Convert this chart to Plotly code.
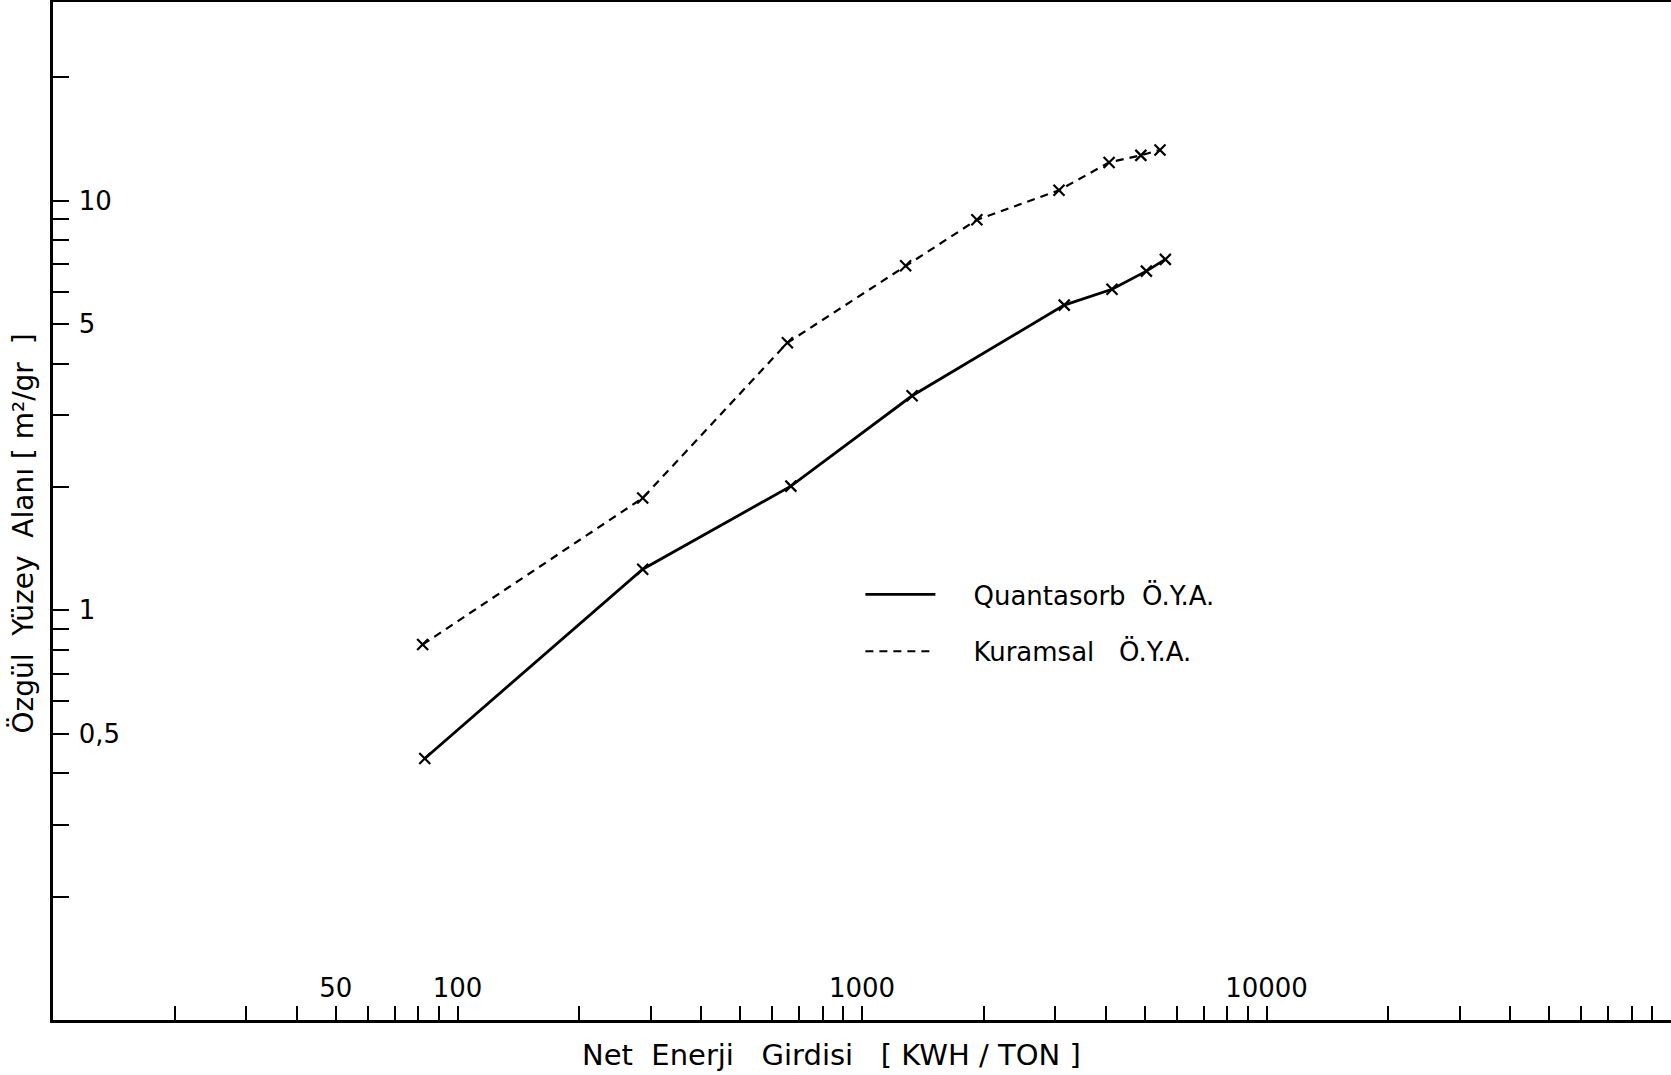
import plotly.graph_objects as go

# Net energy input [KWH/TON] vs specific surface area [m2/gr]
kuramsal_x = [82, 287, 654, 1282, 1923, 3069, 4082, 4891, 5454]
kuramsal_y = [0.825, 1.88, 4.50, 6.94, 8.98, 10.6, 12.4, 12.9, 13.3]

quantasorb_x = [83, 287, 667, 1330, 3162, 4150, 5047, 5623]
quantasorb_y = [0.435, 1.26, 2.01, 3.34, 5.56, 6.08, 6.73, 7.19]

x_tickvals = [20, 30, 40, 50, 60, 70, 80, 90,
              100, 200, 300, 400, 500, 600, 700, 800, 900,
              1000, 2000, 3000, 4000, 5000, 6000, 7000, 8000, 9000,
              10000, 20000, 30000, 40000, 50000, 60000, 70000, 80000, 90000]
x_ticktext = ["", "", "", "50", "", "", "", "",
              "100", "", "", "", "", "", "", "", "",
              "1000", "", "", "", "", "", "", "", "",
              "10000", "", "", "", "", "", "", "", ""]

y_tickvals = [0.2, 0.3, 0.4, 0.5, 0.6, 0.7, 0.8, 0.9,
              1, 2, 3, 4, 5, 6, 7, 8, 9, 10, 20]
y_ticktext = ["", "", "", "0,5", "", "", "", "",
              "1", "", "", "", "5", "", "", "", "", "10", ""]

x_title = "Net  Enerji   Girdisi   [ KWH / TON ]"
y_title = "Özgül  Yüzey  Alanı [ m²/gr  ]"

FONT = "DejaVu Sans, Verdana, sans-serif"
NB = "\u00a0"

fig = go.Figure()
# lines (legend entries)
fig.add_trace(go.Scatter(
    x=quantasorb_x, y=quantasorb_y, mode="lines",
    name=NB * 4 + "Quantasorb  Ö.Y.A.", legendgroup="q",
    line=dict(color="black", width=2.8),
))
fig.add_trace(go.Scatter(
    x=kuramsal_x, y=kuramsal_y, mode="lines",
    name=NB * 4 + "Kuramsal   Ö.Y.A.", legendgroup="k",
    line=dict(color="black", width=2.2, dash="8px,6px"),
))
# point markers
fig.add_trace(go.Scatter(
    x=quantasorb_x, y=quantasorb_y, mode="markers", showlegend=False,
    marker=dict(symbol="x-thin", size=11, line=dict(color="black", width=2.2)),
))
fig.add_trace(go.Scatter(
    x=kuramsal_x, y=kuramsal_y, mode="markers", showlegend=False,
    marker=dict(symbol="x-thin", size=11, line=dict(color="black", width=2.2)),
))

fig.update_layout(
    width=1671, height=1075,
    margin=dict(l=53, r=0, t=2, b=55),
    paper_bgcolor="white", plot_bgcolor="white",
    font=dict(family=FONT, color="black", size=24),
    showlegend=True,
    legend=dict(
        x=0.499, y=0.441, xanchor="left", yanchor="top",
        bgcolor="rgba(0,0,0,0)", font=dict(size=26, color="black"),
        itemwidth=70, tracegroupgap=20,
    ),
    xaxis=dict(
        type="log", range=[1, 5],
        tickmode="array", tickvals=x_tickvals, ticktext=x_ticktext,
        ticks="inside", ticklen=14, tickwidth=2, tickcolor="black",
        ticklabelposition="inside", ticklabelstandoff=6,
        tickfont=dict(size=26, color="black"),
        showline=True, linecolor="black", linewidth=3, mirror=True,
        showgrid=False, zeroline=False,
    ),
    yaxis=dict(
        type="log", range=[-1, 1.485],
        tickmode="array", tickvals=y_tickvals, ticktext=y_ticktext,
        ticks="inside", ticklen=16, tickwidth=2, tickcolor="black",
        ticklabelposition="inside", ticklabelstandoff=12,
        tickfont=dict(size=26, color="black"),
        showline=True, linecolor="black", linewidth=3,
        showgrid=False, zeroline=False,
    ),
    annotations=[
        dict(text=x_title, xref="paper", yref="paper", x=0.481, y=-0.0344,
             xanchor="center", yanchor="middle", showarrow=False,
             font=dict(size=29, color="black")),
        dict(text=y_title, xref="paper", yref="paper", x=-0.0185, y=0.478,
             xanchor="center", yanchor="middle", showarrow=False, textangle=-90,
             font=dict(size=28, color="black")),
    ],
)

fig.write_html("out.html")
